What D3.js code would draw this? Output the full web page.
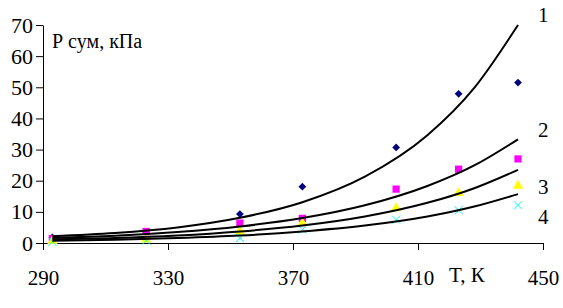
<!DOCTYPE html>
<html>
	<head>
		<title>P sum vs T</title>
		<script src="https://d3js.org/d3.v7.min.js"></script>
		<style>
			body {
				margin: 0;
				background: #fff;
			}
			text {
				font-family: "Liberation Serif", "Times New Roman", serif;
				fill: #000;
			}
			.axis path, .axis line {
				stroke: #000;
			}
		</style>
	</head>
	<body>
		<div class="chart"></div>
		<script>
			// measured points (T, K)
			var temps = [293, 323, 353, 373, 403, 423, 442];
			var series1 = [1.8, 3.5, 9.3, 18.1, 30.7, 47.9, 51.5];
			var series2 = [1.4, 3.7, 6.4, 7.9, 17.3, 23.7, 27.0];
			var series3 = [0.6, 1.1, 3.7, 6.4, 11.2, 16.0, 18.4];
			var series4 = [0.4, 0.8, 1.6, 4.3, 7.5, 10.5, 12.1];

			// trend curves
			var curveT = [293, 313, 333, 353, 373, 393, 413, 428, 442];
			var curve1 = [2.2, 3.2, 5.0, 8.1, 13.1, 21.3, 34.6, 49.8, 70];
			var curve2 = [1.7, 2.3, 3.5, 5.3, 8.0, 12.1, 18.3, 24.9, 33.3];
			var curve3 = [1.2, 1.6, 2.4, 3.7, 5.6, 8.5, 12.9, 17.6, 23.5];
			var curve4 = [0.7, 1.05, 1.6, 2.4, 3.7, 5.6, 8.5, 11.7, 15.7];
			var curveLabels = ["1", "2", "3", "4"];

			var xTicks = [290, 330, 370, 410, 450];
			var yTicks = [0, 10, 20, 30, 40, 50, 60, 70];

			var width = 563,
				height = 308;

			var x = d3.scaleLinear().domain([290, 450]).range([43, 543]);
			var y = d3.scaleLinear().domain([0, 70]).range([243, 25]);

			var svg = d3.select(".chart")
				.append("svg")
				.attr("width", width)
				.attr("height", height);

			// axes
			svg.append("g")
				.attr("class", "axis")
				.attr("transform", "translate(0," + y(0) + ")")
				.call(d3.axisBottom(x).tickValues(xTicks).tickSize(7).tickSizeOuter(0).tickPadding(20))
				.call(function(g) {
					g.selectAll("text").style("font-size", "21px");
				});

			svg.append("g")
				.attr("class", "axis")
				.attr("transform", "translate(" + x(290) + ",0)")
				.call(d3.axisLeft(y).tickValues(yTicks).tickSize(7).tickSizeOuter(0).tickPadding(3))
				.call(function(g) {
					g.selectAll("text").style("font-size", "22px");
				});

			svg.selectAll(".axis text").style("font-family", "'Liberation Serif', serif");

			// markers
			var markers = [
				{ vals: series1, sym: d3.symbolSquare, size: 30, rot: 45, fill: "#000080", stroke: "none" },
				{ vals: series2, sym: d3.symbolSquare, size: 52, rot: 0, fill: "#ff00ff", stroke: "none" },
				{ vals: series3, sym: d3.symbolTriangle, size: 45, rot: 0, fill: "#ffff00", stroke: "none" },
				{ vals: series4, sym: d3.symbolX, size: 45, rot: 0, fill: "none", stroke: "#00ffff" }
			];

			markers.forEach(function(m) {
				svg.append("g").selectAll("path")
					.data(m.vals)
					.enter().append("path")
					.attr("d", d3.symbol().type(m.sym).size(m.size))
					.attr("transform", function(d, i) {
						return "translate(" + x(temps[i]) + "," + y(d) + ") rotate(" + m.rot + ")";
					})
					.style("fill", m.fill)
					.style("stroke", m.stroke)
					.style("stroke-width", 1);
			});

			// trend curves
			var line = d3.line()
				.x(function(d, i) { return x(curveT[i]); })
				.y(function(d) { return y(d); })
				.curve(d3.curveMonotoneX);

			var curves = [curve1, curve2, curve3, curve4];

			svg.append("g").selectAll("path")
				.data(curves)
				.enter().append("path")
				.attr("d", line)
				.style("fill", "none")
				.style("stroke", "#000")
				.style("stroke-width", 2);

			// curve numbers
			var labelY = [73.2, 36.4, 18.1, 8.4];
			svg.append("g").selectAll("text")
				.data(curveLabels)
				.enter().append("text")
				.attr("x", 538)
				.attr("y", function(d, i) { return y(labelY[i]); })
				.attr("dy", "0.35em")
				.style("font-size", "21px")
				.text(function(d) { return d; });

			// axis titles
			svg.append("text")
				.attr("x", 52)
				.attr("y", 48)
				.style("font-size", "20px")
				.text("Р сум, кПа");

			svg.append("text")
				.attr("x", 449)
				.attr("y", 282)
				.style("font-size", "21px")
				.text("T, К");
		</script>
	</body>
</html>
